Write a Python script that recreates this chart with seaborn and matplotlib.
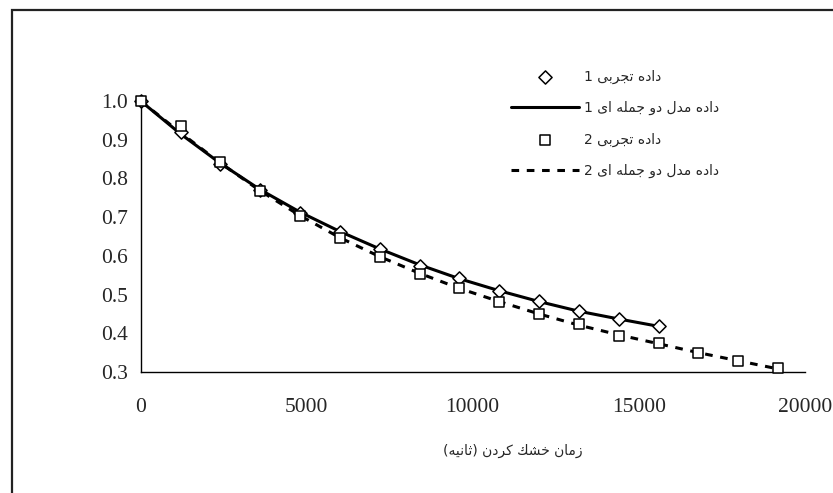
import matplotlib
matplotlib.use("Agg")
import matplotlib.pyplot as plt
from matplotlib.patches import Rectangle
import seaborn as sns
import pandas as pd

# drying time (s) and moisture ratio
time_1 = [0, 1200, 2400, 3600, 4800, 6000, 7200, 8400, 9600, 10800, 12000, 13200, 14400, 15600]
exp_1 = [1.0, 0.920, 0.837, 0.770, 0.711, 0.662, 0.617, 0.574, 0.542, 0.509, 0.483, 0.458, 0.437, 0.419]
model_1 = [1.0, 0.915, 0.839, 0.771, 0.713, 0.663, 0.618, 0.577, 0.541, 0.510, 0.482, 0.457, 0.437, 0.418]

time_2 = [0, 1200, 2400, 3600, 4800, 6000, 7200, 8400, 9600, 10800, 12000, 13200, 14400, 15600,
          16800, 18000, 19200]
exp_2 = [1.0, 0.936, 0.843, 0.768, 0.703, 0.646, 0.597, 0.553, 0.517, 0.481, 0.450, 0.424, 0.393,
         0.375, 0.349, 0.328, 0.310]
model_2 = [1.0, 0.918, 0.840, 0.768, 0.704, 0.647, 0.598, 0.555, 0.516, 0.482, 0.450, 0.421, 0.396,
           0.373, 0.350, 0.329, 0.308]

x_ticks = [0, 5000, 10000, 15000, 20000]
y_ticks = [0.3, 0.4, 0.5, 0.6, 0.7, 0.8, 0.9, 1.0]

# matplotlib has no arabic shaping, so pick presentation forms by hand
FORMS = {
    'ا': ('\uFE8D', '\uFE8E', None, None),
    'ب': ('\uFE8F', '\uFE90', '\uFE91', '\uFE92'),
    'ت': ('\uFE95', '\uFE96', '\uFE97', '\uFE98'),
    'ث': ('\uFE99', '\uFE9A', '\uFE9B', '\uFE9C'),
    'ج': ('\uFE9D', '\uFE9E', '\uFE9F', '\uFEA0'),
    'خ': ('\uFEA5', '\uFEA6', '\uFEA7', '\uFEA8'),
    'د': ('\uFEA9', '\uFEAA', None, None),
    'ر': ('\uFEAD', '\uFEAE', None, None),
    'ز': ('\uFEAF', '\uFEB0', None, None),
    'ش': ('\uFEB5', '\uFEB6', '\uFEB7', '\uFEB8'),
    'ک': ('\uFED9', '\uFEDA', '\uFEDB', '\uFEDC'),
    'ل': ('\uFEDD', '\uFEDE', '\uFEDF', '\uFEE0'),
    'م': ('\uFEE1', '\uFEE2', '\uFEE3', '\uFEE4'),
    'ن': ('\uFEE5', '\uFEE6', '\uFEE7', '\uFEE8'),
    'ه': ('\uFEE9', '\uFEEA', '\uFEEB', '\uFEEC'),
    'و': ('\uFEED', '\uFEEE', None, None),
    'ی': ('\uFEEF', '\uFEF0', '\uFEF3', '\uFEF4'),
}


def shape(text):
    out = []
    for i, ch in enumerate(text):
        if ch not in FORMS:
            out.append(ch)
            continue
        iso, fin, ini, med = FORMS[ch]
        prev = text[i - 1] if i > 0 else ''
        nxt = text[i + 1] if i + 1 < len(text) else ''
        jp = prev in FORMS and FORMS[prev][2] is not None
        jn = nxt in FORMS and ini is not None
        if jp and jn:
            out.append(med)
        elif jp:
            out.append(fin)
        elif jn:
            out.append(ini)
        else:
            out.append(iso)
    return ''.join(reversed(out))


lab_exp1 = "1 " + shape("داده تجربی")
lab_mod1 = "1 " + shape("داده مدل دو جمله ای")
lab_exp2 = "2 " + shape("داده تجربی")
lab_mod2 = "2 " + shape("داده مدل دو جمله ای")
x_label = "(" + shape("ثانیه") + ") " + shape("زمان خشک کردن")

df1 = pd.DataFrame({"t": time_1, "exp": exp_1, "model": model_1})
df2 = pd.DataFrame({"t": time_2, "exp": exp_2, "model": model_2})

sns.set_style("white")
plt.rcParams['font.family'] = ['Liberation Serif', 'DejaVu Sans']

fig = plt.figure(figsize=(8.33, 4.93), dpi=100)
ax = fig.add_axes([0.169, 0.2454, 0.797, 0.5496])

sns.scatterplot(data=df1, x="t", y="exp", ax=ax, marker="D", s=45, facecolor="white",
                edgecolor="black", linewidth=1.1, label=lab_exp1, zorder=4, clip_on=False)
sns.lineplot(data=df1, x="t", y="model", ax=ax, color="black", linewidth=2.2,
             label=lab_mod1, zorder=3)
sns.scatterplot(data=df2, x="t", y="exp", ax=ax, marker="s", s=58, facecolor="white",
                edgecolor="black", linewidth=1.1, label=lab_exp2, zorder=4, clip_on=False)
sns.lineplot(data=df2, x="t", y="model", ax=ax, color="black", linewidth=2.2,
             linestyle=(0, (2.5, 2.5)), label=lab_mod2, zorder=3)

ax.set_xlim(0, 20000)
ax.set_ylim(0.3, 1.0)
ax.set_xticks(x_ticks)
ax.set_xticklabels([str(v) for v in x_ticks])
ax.set_yticks(y_ticks)
ax.set_yticklabels([f"{v:.1f}" for v in y_ticks])
ax.tick_params(axis="both", direction="out", length=5, width=1, color="black",
               labelsize=15.5, pad=4)
ax.tick_params(axis="x", pad=14)
for side in ["top", "right"]:
    ax.spines[side].set_visible(False)
for side in ["left", "bottom"]:
    ax.spines[side].set_color("black")
    ax.spines[side].set_linewidth(1.0)

ax.set_ylabel("")
ax.set_xlabel("")
ax.text(0.56, -0.29, x_label, transform=ax.transAxes, ha="center", va="center",
        fontsize=10, family="DejaVu Sans")

handles, labels = ax.get_legend_handles_labels()
order = [lab_exp1, lab_mod1, lab_exp2, lab_mod2]
hmap = dict(zip(labels, handles))
leg = ax.legend([hmap[l] for l in order], order, loc="upper left",
                bbox_to_anchor=(498 / 833, 1 - 57 / 493), bbox_transform=fig.transFigure,
                frameon=False, handlelength=4.9, handletextpad=0.4, labelspacing=1.25,
                prop={"family": "DejaVu Sans", "size": 10})

# outer chart-area border (only left and top are visible in the reference)
fig.patches.append(Rectangle((12 / 833, -0.05), 1.0, 1 - 10 / 493 + 0.05,
                             transform=fig.transFigure, fill=False, edgecolor="#222222",
                             linewidth=1.6, zorder=10))

fig.savefig("out.png", dpi=100)
